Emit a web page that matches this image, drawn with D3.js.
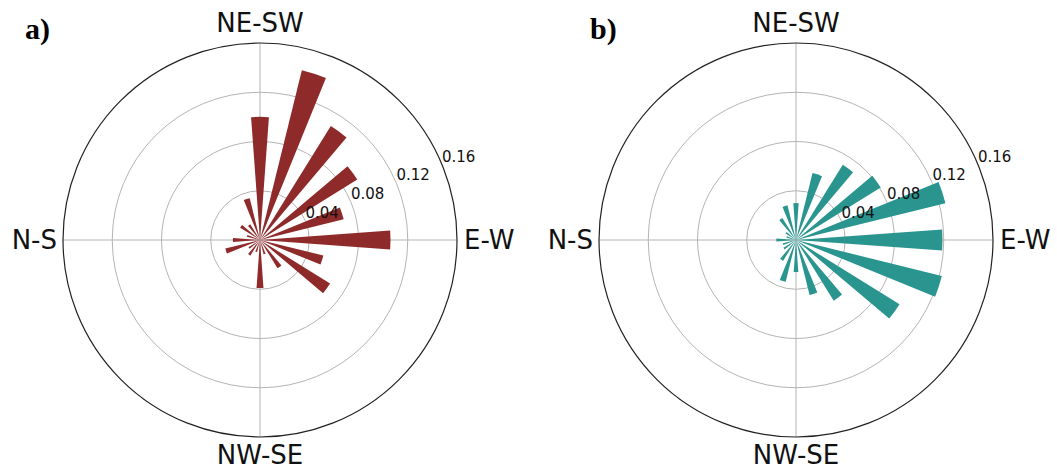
<!DOCTYPE html>
<html><head><meta charset="utf-8">
<script src="https://cdn.jsdelivr.net/npm/d3@7"></script>
<style>body{margin:0;background:#fff}svg{display:block}</style>
</head><body><svg id="c" width="1057" height="469"></svg>
<script>
// direction bins (degrees, counter-clockwise from E-W)
const anglesDeg = [0,18,36,54,72,90,108,126,144,162,180,198,216,234,252,270,288,306,324,342];
const valuesA = [0.106,0.070,0.093,0.109,0.142,0.100,0.035,0.015,0.019,0.011,0.022,0.029,0.011,0.015,0.010,0.039,0.012,0.027,0.067,0.053];
const valuesB = [0.119,0.125,0.081,0.072,0.056,0.030,0.029,0.021,0.010,0.008,0.016,0.011,0.012,0.020,0.035,0.026,0.046,0.058,0.099,0.122];
const rTicks = [0.04,0.08,0.12,0.16];
const rTickLabels = ["0.04","0.08","0.12","0.16"];
const thetaLabels = [{a:0,t:"E-W"},{a:90,t:"NE-SW"},{a:180,t:"N-S"},{a:270,t:"NW-SE"}];
const panels = [{id:"a)",vals:valuesA,color:"#8f2a2b",cx:260,lx:25},{id:"b)",vals:valuesB,color:"#2a958f",cx:796,lx:590}];

const svg = d3.select("#c");
const R = 197, cy = 240, barW = 0.145*180/Math.PI;
const r = d3.scaleLinear().domain([0,0.16]).range([0,R]);
const toRad = d => d*Math.PI/180;

panels.forEach(p=>{
  const g = svg.append("g").attr("transform",`translate(${p.cx},${cy})`);
  g.selectAll("circle.grid").data(rTicks.slice(0,-1)).join("circle")
    .attr("r",d=>r(d)).attr("fill","none").attr("stroke","#b4b4b4").attr("stroke-width",1);
  g.selectAll("line.sp").data(thetaLabels).join("line")
    .attr("x1",0).attr("y1",0)
    .attr("x2",d=>r(0.16)*Math.cos(toRad(d.a))).attr("y2",d=>-r(0.16)*Math.sin(toRad(d.a)))
    .attr("stroke","#b4b4b4").attr("stroke-width",1);
  const arc = d3.arc().innerRadius(0);
  g.selectAll("path.bar").data(anglesDeg.map((a,i)=>({a,v:p.vals[i]}))).join("path")
    .attr("d",d=>arc({outerRadius:r(d.v),
       startAngle:toRad(90-d.a-barW/2), endAngle:toRad(90-d.a+barW/2)}))
    .attr("fill",p.color);
  g.append("circle").attr("r",r(0.16)).attr("fill","none").attr("stroke","#222").attr("stroke-width",1.2);
  const la = toRad(22.5);
  g.selectAll("text.rt").data(rTicks).join("text")
    .attr("x",d=>r(d)*Math.cos(la)).attr("y",d=>-r(d)*Math.sin(la)-3)
    .attr("font-family","DejaVu Sans").attr("font-size",15).attr("fill","#111")
    .text((d,i)=>rTickLabels[i]);
  g.selectAll("text.th").data(thetaLabels).join("text")
    .attr("x",d=>d.a===0?R+7:d.a===180?-R-6:0)
    .attr("y",d=>d.a===90?-R-11:d.a===270?R+27:9)
    .attr("text-anchor",d=>d.a===0?"start":d.a===180?"end":"middle")
    .attr("font-family","DejaVu Sans").attr("font-size",26).attr("fill","#111")
    .text(d=>d.t);
  svg.append("text").attr("x",p.lx).attr("y",39)
    .attr("font-family","Liberation Serif").attr("font-weight","bold").attr("font-size",30)
    .text(p.id);
});
</script></body></html>
